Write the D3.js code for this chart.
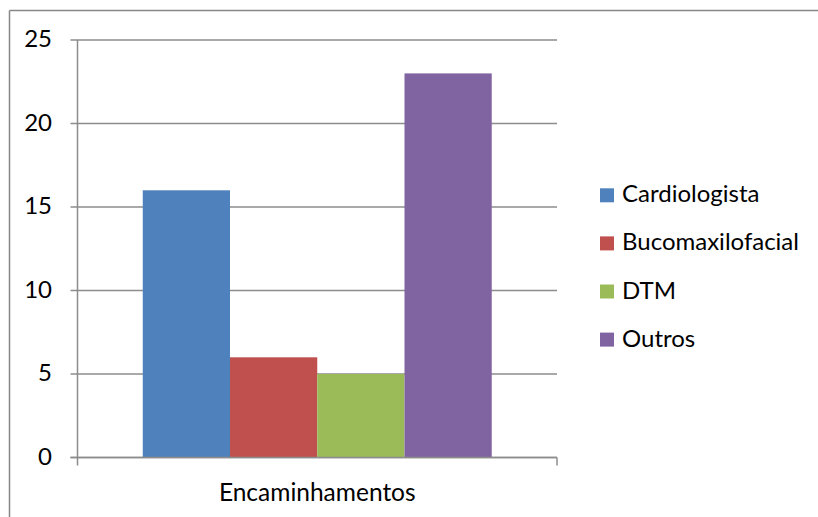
<!DOCTYPE html>
<html>
<head>
<meta charset="utf-8">
<script src="https://d3js.org/d3.v7.min.js"></script>
<style>
  html, body { margin: 0; padding: 0; background: #fff; overflow: hidden; }
  svg { display: block; }
  text { font-family: Lato, "Open Sans", sans-serif; fill: #000; }
</style>
</head>
<body>
<svg id="chart" width="818" height="517"></svg>
<script>
// Referrals by specialty
const category = "Encaminhamentos";
const seriesNames = ["Cardiologista", "Bucomaxilofacial", "DTM", "Outros"];
const seriesValues = [16, 6, 5, 23];
const seriesColors = ["#4F81BD", "#C0504D", "#9BBB59", "#8064A2"];
const yTicks = [0, 5, 10, 15, 20, 25];

const svg = d3.select("#chart");
const W = 818, H = 517;
const gridColor = "#8c8c8c";

// chart frame: only the top and left edges fall inside the view
svg.append("line")
  .attr("x1", 9.5).attr("x2", W).attr("y1", 10.5).attr("y2", 10.5)
  .attr("stroke", "#878787").attr("stroke-width", 1.5);
svg.append("line")
  .attr("x1", 9.5).attr("x2", 9.5).attr("y1", 10.5).attr("y2", H)
  .attr("stroke", "#878787").attr("stroke-width", 1.5);

const plot = { left: 77.5, right: 557, top: 40, bottom: 457.5 };

const y = d3.scaleLinear().domain([0, 25]).range([plot.bottom, plot.top]);
const x0 = d3.scaleBand().domain([category]).range([plot.left, plot.right]).paddingInner(0).paddingOuter(0.187);
const x1 = d3.scaleBand().domain(seriesNames).range([0, x0.bandwidth()]);

// horizontal gridlines + tick stubs
svg.append("g").selectAll("line").data(yTicks).join("line")
  .attr("x1", plot.left - 7).attr("x2", plot.right)
  .attr("y1", d => y(d)).attr("y2", d => y(d))
  .attr("stroke", gridColor).attr("stroke-width", 1.5);

// y tick labels
svg.append("g").selectAll("text").data(yTicks).join("text")
  .attr("x", 52).attr("y", d => y(d))
  .attr("dy", "0.3em")
  .attr("text-anchor", "end")
  .attr("font-size", 24)
  .text(d => d);

// bars
svg.append("g").selectAll("rect")
  .data(seriesNames.map((n, i) => ({ name: n, value: seriesValues[i], color: seriesColors[i] })))
  .join("rect")
  .attr("x", d => x0(category) + x1(d.name))
  .attr("y", d => y(d.value))
  .attr("width", x1.bandwidth())
  .attr("height", d => y(0) - y(d.value))
  .attr("fill", d => d.color);

// axis lines
svg.append("line")
  .attr("x1", plot.left).attr("x2", plot.left)
  .attr("y1", plot.top).attr("y2", plot.bottom + 8)
  .attr("stroke", gridColor).attr("stroke-width", 1.5);
svg.append("line")
  .attr("x1", plot.left - 7).attr("x2", plot.right)
  .attr("y1", y(0)).attr("y2", y(0))
  .attr("stroke", gridColor).attr("stroke-width", 1.5);
svg.append("line")
  .attr("x1", plot.right).attr("x2", plot.right)
  .attr("y1", y(0)).attr("y2", plot.bottom + 8)
  .attr("stroke", gridColor).attr("stroke-width", 1.5);

// category label
svg.append("text")
  .attr("x", (plot.left + plot.right) / 2).attr("y", 501)
  .attr("text-anchor", "middle")
  .attr("font-size", 24.5)
  .text(category);

// legend
const legend = svg.append("g").selectAll("g").data(seriesNames).join("g")
  .attr("transform", (d, i) => `translate(600, ${195.3 + i * 48.1})`);
legend.append("rect")
  .attr("x", 0).attr("y", -7).attr("width", 14).attr("height", 14)
  .attr("fill", (d, i) => seriesColors[i]);
legend.append("text")
  .attr("x", 22).attr("y", 7)
  .attr("font-size", 24)
  .text(d => d);
</script>
</body>
</html>
